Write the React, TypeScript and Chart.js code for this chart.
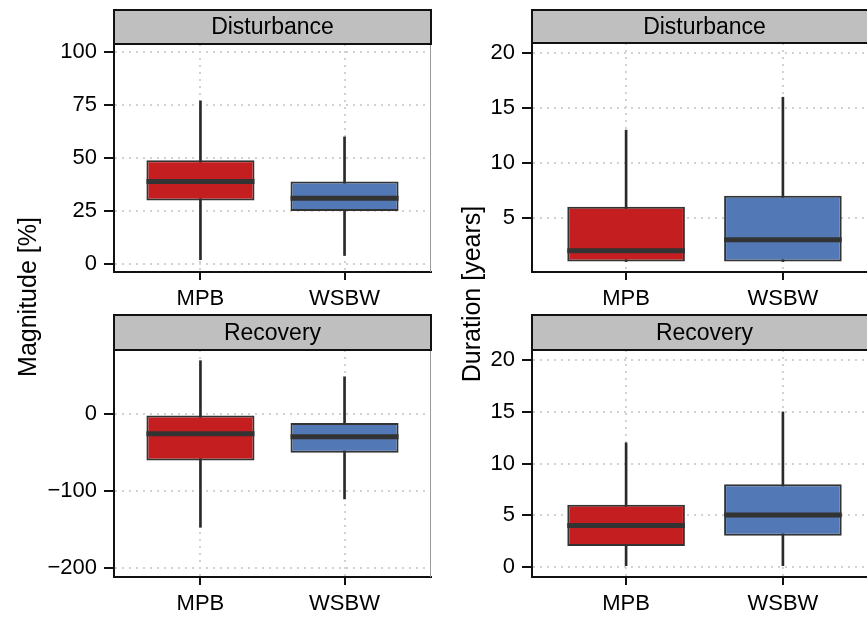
import React, { useEffect, useRef } from "react";
import { Chart, registerables } from "chart.js";

Chart.register(...registerables);

const FONT = '"Liberation Sans", Arial, Helvetica, sans-serif';

// ---------- data ----------
const categories = ["MPB", "WSBW"];
const boxColors = ["#C41E20", "#5279B5"];

// Magnitude [%] – Disturbance
const magDistLow = [2, 4];
const magDistQ1 = [30, 25];
const magDistMedian = [39, 31];
const magDistQ3 = [49, 39];
const magDistHigh = [77, 60];
const magDistTicks = [0, 25, 50, 75, 100];

// Magnitude [%] – Recovery
const magRecLow = [-147, -110];
const magRecQ1 = [-60, -50];
const magRecMedian = [-25, -29];
const magRecQ3 = [0, -11];
const magRecHigh = [70, 49];
const magRecTicks = [-200, -100, 0];

// Duration [years] – Disturbance
const durDistLow = [1, 1];
const durDistQ1 = [1, 1];
const durDistMedian = [2, 3];
const durDistQ3 = [6, 7];
const durDistHigh = [13, 16];
const durDistTicks = [5, 10, 15, 20];

// Duration [years] – Recovery
const durRecLow = [0, 0];
const durRecQ1 = [2, 3];
const durRecMedian = [4, 5];
const durRecQ3 = [6, 8];
const durRecHigh = [12, 15];
const durRecTicks = [0, 5, 10, 15, 20];

// ---------- plugins ----------
const stripPlugin = {
  id: "strip",
  afterDraw(chart: any, _args: any, opts: any) {
    const { ctx, chartArea } = chart;
    const top = opts.top;
    const h = chartArea.top - top;
    const w = chartArea.right - chartArea.left;
    ctx.save();
    // light panel border on the right
    ctx.strokeStyle = "#9a9a9a";
    ctx.lineWidth = 1;
    ctx.beginPath();
    ctx.moveTo(chartArea.right - 0.5, chartArea.top);
    ctx.lineTo(chartArea.right - 0.5, chartArea.bottom);
    ctx.stroke();
    // strip
    ctx.fillStyle = "#bfbfbf";
    ctx.fillRect(chartArea.left, top, w, h);
    ctx.strokeStyle = "#111";
    ctx.lineWidth = 2;
    ctx.strokeRect(chartArea.left, top, w, h);
    ctx.fillStyle = "#000";
    ctx.font = `23px ${FONT}`;
    ctx.textAlign = "center";
    ctx.textBaseline = "middle";
    ctx.fillText(opts.text, chartArea.left + w / 2, top + h / 2 + 1);
    ctx.restore();
  },
};

const medianPlugin = {
  id: "medianLine",
  afterDatasetsDraw(chart: any) {
    const { ctx } = chart;
    const meta = chart.getDatasetMeta(0);
    const med: number[] = (chart.data.datasets[0] as any).medians;
    const yScale = chart.scales.y;
    ctx.save();
    ctx.strokeStyle = "#333";
    ctx.lineWidth = 5;
    meta.data.forEach((el: any, i: number) => {
      const { x, width } = el.getProps(["x", "width"], true);
      const y = yScale.getPixelForValue(med[i]);
      ctx.beginPath();
      ctx.moveTo(x - width / 2, y);
      ctx.lineTo(x + width / 2, y);
      ctx.stroke();
    });
    ctx.restore();
  },
};

const fmt = (v: number) => String(v).replace("-", "\u2212");

type Box = { x: number; y: number; w: number; h: number };
type Area = { l: number; r: number; t: number; b: number };

function Panel(props: {
  box: Box;
  area: Area;
  stripTop: number;
  title: string;
  low: number[];
  q1: number[];
  median: number[];
  q3: number[];
  high: number[];
  yMin: number;
  yMax: number;
  yTicks: number[];
}) {
  const ref = useRef<HTMLCanvasElement>(null);
  useEffect(() => {
    const { box, area } = props;
    const gridCommon = {
      color: "#d2d2d2",
      lineWidth: 2,
      tickColor: "#111",
      tickWidth: 2,
      tickBorderDash: [],
    };
    const chart = new Chart(ref.current as HTMLCanvasElement, {
      type: "bar",
      data: {
        datasets: [
          {
            data: categories.map((_, i) => ({ x: i + 1, y: [props.q1[i], props.q3[i]] })),
            backgroundColor: boxColors,
            borderColor: "#333",
            borderWidth: 2,
            borderSkipped: false,
            grouped: false,
            categoryPercentage: 1,
            barPercentage: 0.75,
            medians: props.median,
          } as any,
          {
            data: categories.map((_, i) => ({ x: i + 1, y: [props.low[i], props.high[i]] })),
            backgroundColor: "#2a2a2a",
            borderWidth: 0,
            barThickness: 2,
            grouped: false,
          } as any,
        ],
      },
      options: {
        animation: false,
        responsive: false,
        maintainAspectRatio: false,
        events: [],
        layout: { padding: { left: 0, top: area.t, right: box.w - area.r, bottom: 0 } },
        plugins: {
          legend: { display: false },
          tooltip: { enabled: false },
          strip: { top: props.stripTop, text: props.title },
        } as any,
        scales: {
          x: {
            type: "linear",
            min: 0.4,
            max: 2.6,
            offset: false,
            afterBuildTicks: (s: any) => {
              s.ticks = categories.map((_, i) => ({ value: i + 1 }));
            },
            afterFit: (s: any) => {
              s.height = box.h - area.b;
            },
            ticks: {
              callback: (_v: any, i: number) => categories[i],
              font: { family: FONT, size: 22 },
              color: "#000",
              padding: 6,
              autoSkip: false,
              maxRotation: 0,
            },
            grid: { ...gridCommon, offset: false, tickLength: 8 },
            border: { color: "#111", width: 2, dash: [2, 5] },
          } as any,
          y: {
            type: "linear",
            min: props.yMin,
            max: props.yMax,
            beginAtZero: false,
            afterBuildTicks: (s: any) => {
              s.ticks = props.yTicks.map((v) => ({ value: v }));
            },
            afterFit: (s: any) => {
              s.width = area.l;
            },
            ticks: {
              callback: (_v: any, i: number) => fmt(props.yTicks[i]),
              font: { family: FONT, size: 22 },
              color: "#000",
              padding: 7,
              autoSkip: false,
            },
            grid: { ...gridCommon, tickLength: 10 },
            border: { color: "#111", width: 2, dash: [2, 5] },
          } as any,
        },
      },
      plugins: [stripPlugin, medianPlugin],
    });
    return () => chart.destroy();
  }, []);
  const { box } = props;
  return (
    <canvas
      ref={ref}
      width={box.w}
      height={box.h}
      style={{ position: "absolute", left: box.x, top: box.y, width: box.w, height: box.h }}
    />
  );
}

function YTitle({ text, cx, cy }: { text: string; cx: number; cy: number }) {
  const w = 300;
  const h = 30;
  return (
    <div
      style={{
        position: "absolute",
        left: cx - w / 2,
        top: cy - h / 2,
        width: w,
        height: h,
        lineHeight: `${h}px`,
        textAlign: "center",
        fontFamily: FONT,
        fontSize: 25,
        color: "#000",
        transform: "rotate(-90deg)",
        transformOrigin: "50% 50%",
        whiteSpace: "nowrap",
      }}
    >
      {text}
    </div>
  );
}

export default function App() {
  return (
    <div
      style={{
        position: "fixed",
        left: 0,
        top: 0,
        width: 867,
        height: 619,
        overflow: "hidden",
        background: "#fff",
      }}
    >
      <Panel
        box={{ x: 0, y: 0, w: 440, h: 310 }}
        area={{ l: 114, r: 431, t: 44, b: 272 }}
        stripTop={10}
        title="Disturbance"
        low={magDistLow}
        q1={magDistQ1}
        median={magDistMedian}
        q3={magDistQ3}
        high={magDistHigh}
        yMin={-3.8}
        yMax={103.9}
        yTicks={magDistTicks}
      />
      <Panel
        box={{ x: 0, y: 310, w: 440, h: 309 }}
        area={{ l: 114, r: 431, t: 40, b: 267 }}
        stripTop={5}
        title="Recovery"
        low={magRecLow}
        q1={magRecQ1}
        median={magRecMedian}
        q3={magRecQ3}
        high={magRecHigh}
        yMin={-211.7}
        yMax={83.9}
        yTicks={magRecTicks}
      />
      <Panel
        box={{ x: 440, y: 0, w: 447, h: 310 }}
        area={{ l: 92, r: 437, t: 43, b: 272 }}
        stripTop={10}
        title="Disturbance"
        low={durDistLow}
        q1={durDistQ1}
        median={durDistMedian}
        q3={durDistQ3}
        high={durDistHigh}
        yMin={0.05}
        yMax={20.95}
        yTicks={durDistTicks}
      />
      <Panel
        box={{ x: 440, y: 310, w: 447, h: 309 }}
        area={{ l: 92, r: 437, t: 40, b: 267 }}
        stripTop={5}
        title="Recovery"
        low={durRecLow}
        q1={durRecQ1}
        median={durRecMedian}
        q3={durRecQ3}
        high={durRecHigh}
        yMin={-1}
        yMax={21}
        yTicks={durRecTicks}
      />
      <YTitle text="Magnitude [%]" cx={27} cy={297} />
      <YTitle text="Duration [years]" cx={471} cy={294} />
    </div>
  );
}
